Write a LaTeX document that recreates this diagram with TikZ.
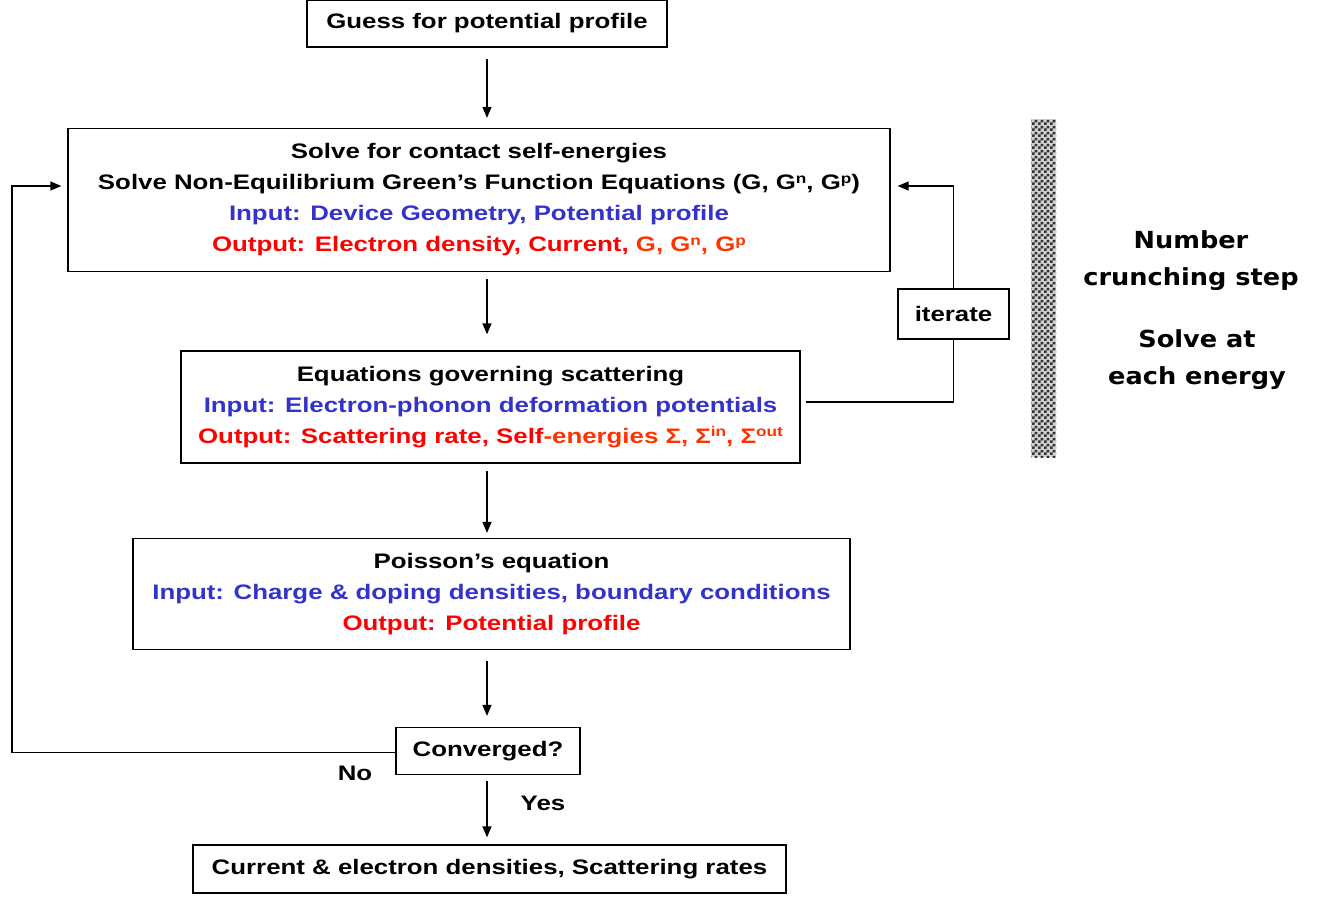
\documentclass[tikz,border=0pt]{standalone}
\usepackage{fontspec}
\setmainfont{Liberation Sans}[FakeStretch=1.23]
\newfontfamily\sidefont{DejaVu Sans}[FakeStretch=1.09]
\usetikzlibrary{arrows.meta,patterns}
\definecolor{inblue}{RGB}{51,51,204}
\definecolor{outred}{RGB}{255,0,0}
\definecolor{orred}{RGB}{255,51,0}
\pgfdeclarepatternformonly{finecheck}{\pgfpointorigin}{\pgfqpoint{6pt}{6pt}}{\pgfqpoint{6pt}{6pt}}{%
  \pgfpathrectangle{\pgfpointorigin}{\pgfqpoint{3pt}{3pt}}%
  \pgfpathrectangle{\pgfqpoint{3pt}{3pt}}{\pgfqpoint{3pt}{3pt}}%
  \pgfusepath{fill}}
\newcommand{\sups}[1]{\raisebox{0.6ex}{\fontsize{14}{14}\selectfont #1}}
\tikzset{
  box/.style={draw, line width=1.3pt, align=center, inner sep=0pt,
    font=\fontsize{21}{31}\selectfont\bfseries},
  arr/.style={line width=1.3pt, -{Triangle[length=11pt,width=9pt]}},
  ln/.style={line width=1.3pt},
  lbl/.style={font=\fontsize{21}{31}\selectfont\bfseries},
  side/.style={font=\fontsize{23.5}{37}\selectfont\sidefont\bfseries, align=center},
}
\begin{document}
\begin{tikzpicture}[x=1pt,y=-1pt]
\useasboundingbox (0,0) rectangle (1332,898);
\node[box, minimum width=360pt, minimum height=47pt] (top) at (487,23.5) {Guess for potential profile};
\node[box, minimum width=822pt, minimum height=143pt] (b1) at (479,200) {Solve for contact self-energies\\
Solve Non-Equilibrium Green’s Function Equations (G, G\sups{n}, G\sups{p})\\
\textcolor{inblue}{Input: Device Geometry, Potential profile}\\
\textcolor{outred}{Output: Electron density, Current, }\textcolor{orred}{G, G\sups{n}, G\sups{p}}};
\node[box, minimum width=619pt, minimum height=112pt] (b2) at (490.5,407) {Equations governing scattering\\
\textcolor{inblue}{Input: Electron-phonon deformation potentials}\\
\textcolor{outred}{Output: Scattering rate, Self}\textcolor{orred}{-energies Σ, Σ\sups{in}, Σ\sups{out}}};
\node[box, minimum width=717pt, minimum height=111pt] (b3) at (491.5,594) {Poisson’s equation\\
\textcolor{inblue}{Input: Charge \& doping densities, boundary conditions}\\
\textcolor{outred}{Output: Potential profile}};
\node[box, minimum width=184pt, minimum height=47pt] (conv) at (488,751) {Converged?};
\node[box, minimum width=593pt, minimum height=48pt] (res) at (489.5,869) {Current \& electron densities, Scattering rates};
\node[box, minimum width=111pt, minimum height=50pt] (it) at (953.5,314) {iterate};
\coordinate (lx) at (12,750);
\coordinate (ax) at (487,0);
% vertical arrows
\draw[arr, shorten <=11pt, shorten >=10pt] (top.south -| ax) -- (b1.north -| ax);
\draw[arr, shorten <=7pt, shorten >=16pt] (b1.south -| ax) -- (b2.north -| ax);
\draw[arr, shorten <=7pt, shorten >=5pt] (b2.south -| ax) -- (b3.north -| ax);
\draw[arr, shorten <=11pt, shorten >=11pt] (b3.south -| ax) -- (conv.north -| ax);
\draw[arr, shorten <=6pt, shorten >=7pt] (conv.south -| ax) -- (res.north -| ax);
% loop back
\draw[arr, shorten >=6pt] ([yshift=-1.5pt]conv.west) -| (lx) |- ([yshift=14pt]b1.west);
\node[lbl] (no) at (355,773) {No};
\node[lbl] (yes) at (543,803) {Yes};
% iterate loop
\draw[ln] ([yshift=5pt,xshift=5pt]b2.east) -| (it.south);
\draw[arr, shorten >=7pt] (it.north) |- ([yshift=14pt]b1.east);
% hatched bar
\fill[gray!35] (1031,119) rectangle (1056,457);
\fill[pattern=finecheck, pattern color=black!80] (1031,119) rectangle (1056,457);
% side text
\node[side] (s1) at (1191,261) {Number\\crunching step};
\node[side] (s2) at (1197,360) {Solve at\\each energy};
\end{tikzpicture}
\end{document}
